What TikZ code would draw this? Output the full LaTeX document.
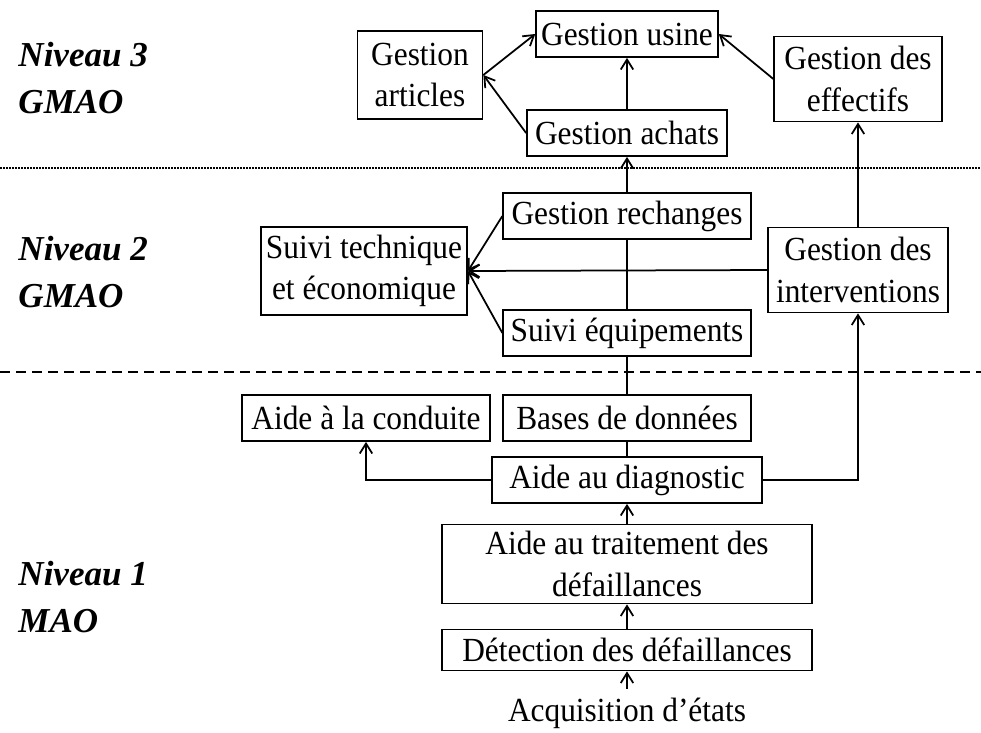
\documentclass[tikz,border=0pt]{standalone}
\usepackage{fontspec}
\setmainfont{Liberation Serif}
\newfontfamily\boxfont[FakeStretch=0.93]{Liberation Serif}
\usetikzlibrary{arrows.meta}

\begin{document}
\begin{tikzpicture}[x=0.4pt, y=-0.4pt,
		box/.style = {draw, fill=white, align=center, line width=0.7pt,
			font=\boxfont\fontsize{13.5}{16.5}\selectfont, inner sep=2pt,
			minimum height=18.4pt},
		arr/.style = {line width=0.7pt, -{Straight Barb[length=4pt,width=5pt]}},
		link/.style = {line width=0.7pt},
		niveau/.style = {anchor=west, align=left, inner sep=0pt,
			font=\fontsize{14}{18.5}\selectfont\bfseries\itshape}]
		\useasboundingbox (0,0) rectangle (981,733);
		
		% niveaux
		\node[niveau] (n3) at (18,78) {Niveau 3\\GMAO};
		\node[niveau] (n2) at (18,272) {Niveau 2\\GMAO};
		\node[niveau] (n1) at (18,597) {Niveau 1\\MAO};
		\draw[line width=0.5pt, dash pattern=on 0.6pt off 0.6pt] (0,168) -- (981,168);
		\draw[line width=0.7pt, dash pattern=on 4pt off 2.4pt] (0,372) -- (981,372);
		
		% niveau 3
		\node[box] (usine) at (627,34) {Gestion usine};
		\node[box, minimum width=50pt, minimum height=35pt] (articles) at (420,75) {Gestion\\articles};
		\node[box, minimum width=80pt] (achats) at (627,133) {Gestion achats};
		\node[box, minimum width=67pt, minimum height=34pt] (effectifs) at (858,79) {Gestion des\\effectifs};
		
		% niveau 2
		\node[box, minimum width=99pt] (rech) at (627,216) {Gestion rechanges};
		\node[box, minimum width=79pt, minimum height=35pt] (suivi) at (364,271) {Suivi technique\\et économique};
		\node[box, minimum width=72pt, minimum height=34pt] (interv) at (858,270) {Gestion des\\interventions};
		\node[box, minimum width=99pt] (equip) at (627,333) {Suivi équipements};
		
		% niveau 1
		\node[box, minimum width=99pt] (conduite) at (366,418) {Aide à la conduite};
		\node[box, minimum width=99pt] (bases) at (627,418) {Bases de données};
		\node[box, minimum width=108pt] (diag) at (627,480) {Aide au diagnostic};
		\node[box, minimum width=148pt, minimum height=31.6pt] (trait) at (627,564) {Aide au traitement des\\défaillances};
		\node[box, minimum width=148pt, minimum height=16.4pt] (detect) at (627,650) {Détection des défaillances};
		\node[box, draw=none, fill=none] (acq) at (627,713) {Acquisition d’états};
		
		% liaisons
		\draw[arr] (acq) -- (detect);
		\draw[arr] (detect) -- (trait);
		\draw[arr] (trait) -- (diag);
		\draw[arr] (diag.west) -| (conduite.south);
		\draw[arr] (diag.east) -| (interv.south);
		\draw[link] (diag) -- (bases);
		\draw[link] (bases) -- (equip);
		\draw[link] (equip) -- (rech);
		\draw[arr] (rech) -- (achats);
		\draw[arr] (rech.west) -- (suivi.east);
		\draw[arr] (equip.west) -- (suivi.east);
		\draw[arr] (interv.west) -- (suivi.east);
		\draw[arr] (interv) -- (effectifs);
		\draw[arr] (achats) -- (usine);
		\draw[arr] (achats.west) -- (articles.east);
		\draw[arr] (articles.east) -- (usine.west);
		\draw[arr] (effectifs.west) -- (usine.east);
	\end{tikzpicture}
\end{document}
